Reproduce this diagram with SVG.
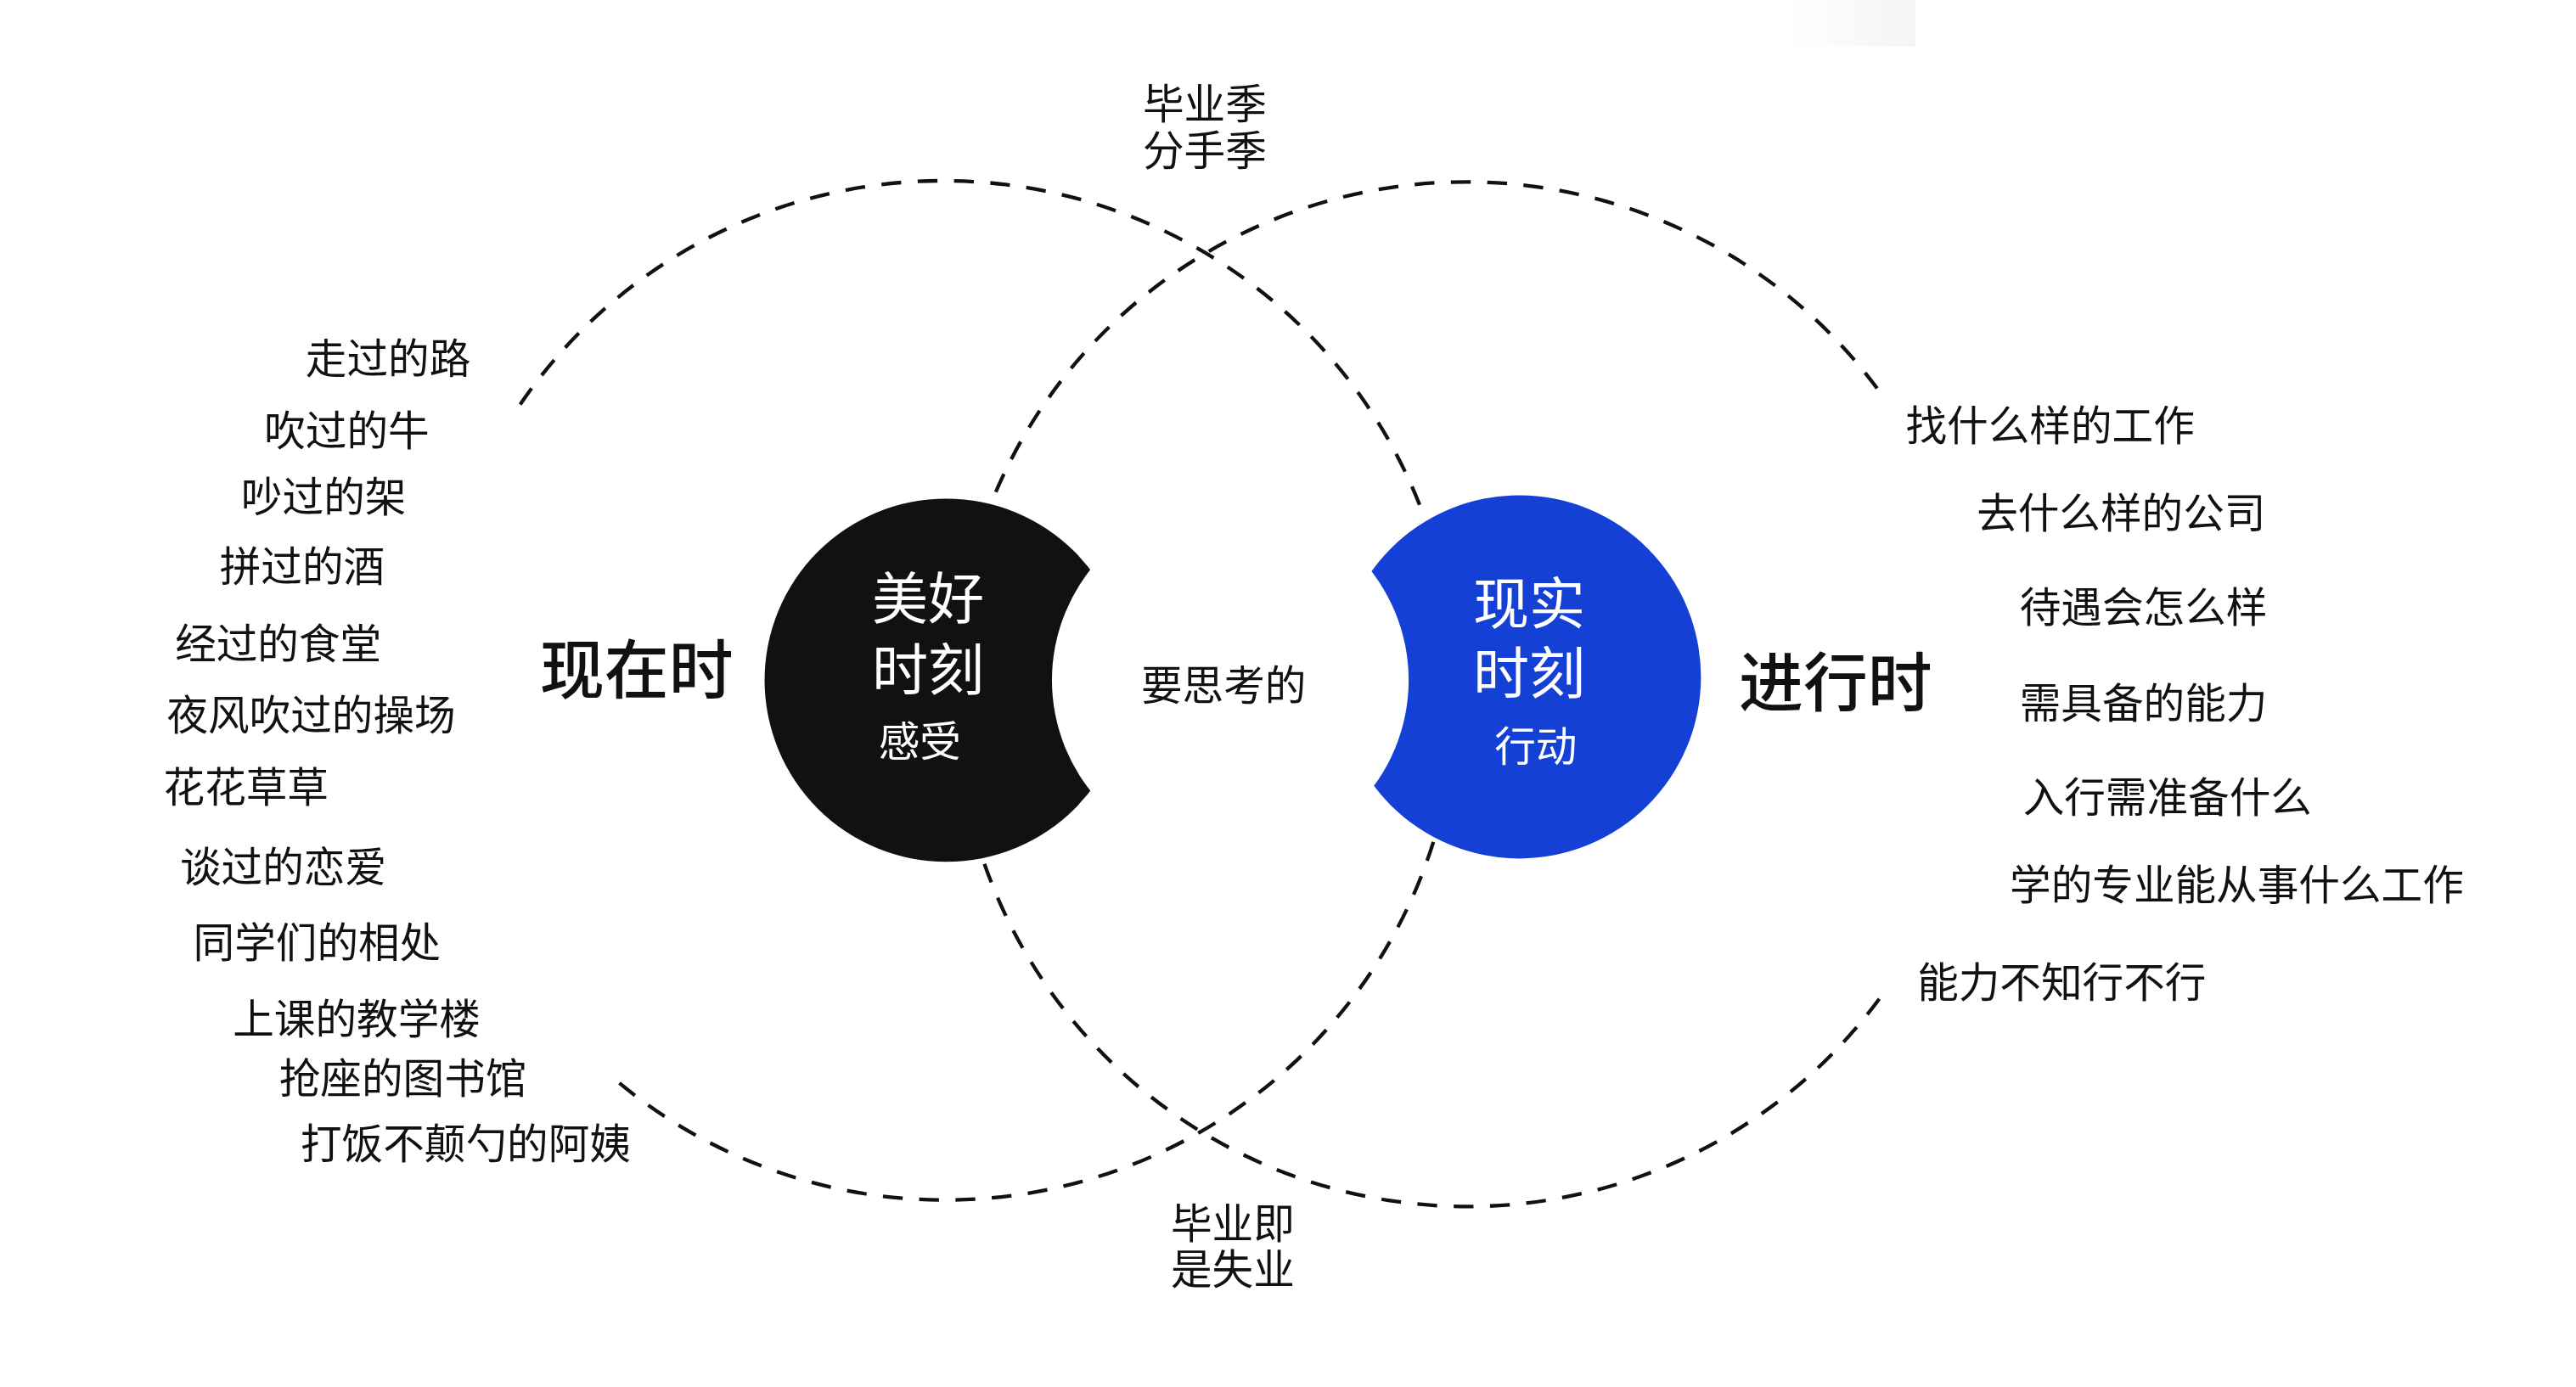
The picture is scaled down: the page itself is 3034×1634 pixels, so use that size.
<svg xmlns="http://www.w3.org/2000/svg" width="3034" height="1634" viewBox="0 0 3034 1634">
<defs>
<linearGradient id="fade" x1="0" y1="0" x2="1" y2="0">
<stop offset="0" stop-color="#fff"/>
<stop offset="1" stop-color="#f4f4f4"/>
</linearGradient>
</defs>
<style>
.t{font-family:"Noto Sans CJK SC","Noto Sans",sans-serif;fill:#111;font-size:25px}
.big{font-size:39px;font-weight:500}
.w{fill:#fff;text-anchor:middle}
.d{fill:none;stroke:#111;stroke-width:2.2;stroke-dasharray:12 10}
</style>
<rect width="3034" height="1634" fill="#fff"/>
<g transform="scale(1.945)">
<rect x="1080" y="0" width="80" height="28" fill="url(#fade)"/>
<g id="connectors">
<path class="d" d="M315,245 A310,310 0 0 1 862,312"/>
<path class="d" d="M868,510 A310,310 0 0 1 368,650"/>
<path class="d" d="M603,298 A310,310 0 0 1 1138,237"/>
<path class="d" d="M1138,605 A310,310 0 0 1 595,520"/>
</g>
<g id="node-meihao">
<circle cx="573" cy="412" r="110" fill="#111"/>
<text class="t w" x="562" y="375" style="font-size:34px">美好</text>
<text class="t w" x="562" y="418" style="font-size:34px">时刻</text>
<text class="t w" x="557" y="458">感受</text>
</g>
<g id="node-xianshi">
<circle cx="920" cy="410" r="110" fill="#1440d6"/>
<text class="t w" x="926" y="378" style="font-size:34px">现实</text>
<text class="t w" x="926" y="420" style="font-size:34px">时刻</text>
<text class="t w" x="930" y="461">行动</text>
</g>
<circle cx="745" cy="412" r="108" fill="#fff"/>
<g id="labels">
<text class="t" x="691" y="424">要思考的</text>
<text class="t big" x="327" y="420">现在时</text>
<text class="t big" x="1053" y="428">进行时</text>
<text class="t" x="692" y="72">毕业季</text>
<text class="t" x="692" y="100">分手季</text>
<text class="t" x="709" y="750">毕业即</text>
<text class="t" x="709" y="778">是失业</text>
</g>
<g id="left-list">
<text class="t" x="185" y="226">走过的路</text>
<text class="t" x="160" y="270">吹过的牛</text>
<text class="t" x="146" y="310">吵过的架</text>
<text class="t" x="133" y="352">拼过的酒</text>
<text class="t" x="106" y="399">经过的食堂</text>
<text class="t" x="101" y="442">夜风吹过的操场</text>
<text class="t" x="99" y="486">花花草草</text>
<text class="t" x="109" y="534">谈过的恋爱</text>
<text class="t" x="117" y="580">同学们的相处</text>
<text class="t" x="141" y="626">上课的教学楼</text>
<text class="t" x="169" y="662">抢座的图书馆</text>
<text class="t" x="182" y="702">打饭不颠勺的阿姨</text>
</g>
<g id="right-list">
<text class="t" x="1154" y="267">找什么样的工作</text>
<text class="t" x="1197" y="320">去什么样的公司</text>
<text class="t" x="1223" y="377">待遇会怎么样</text>
<text class="t" x="1223" y="435">需具备的能力</text>
<text class="t" x="1225" y="492">入行需准备什么</text>
<text class="t" x="1217" y="545">学的专业能从事什么工作</text>
<text class="t" x="1161" y="604">能力不知行不行</text>
</g>
</g>
</svg>
